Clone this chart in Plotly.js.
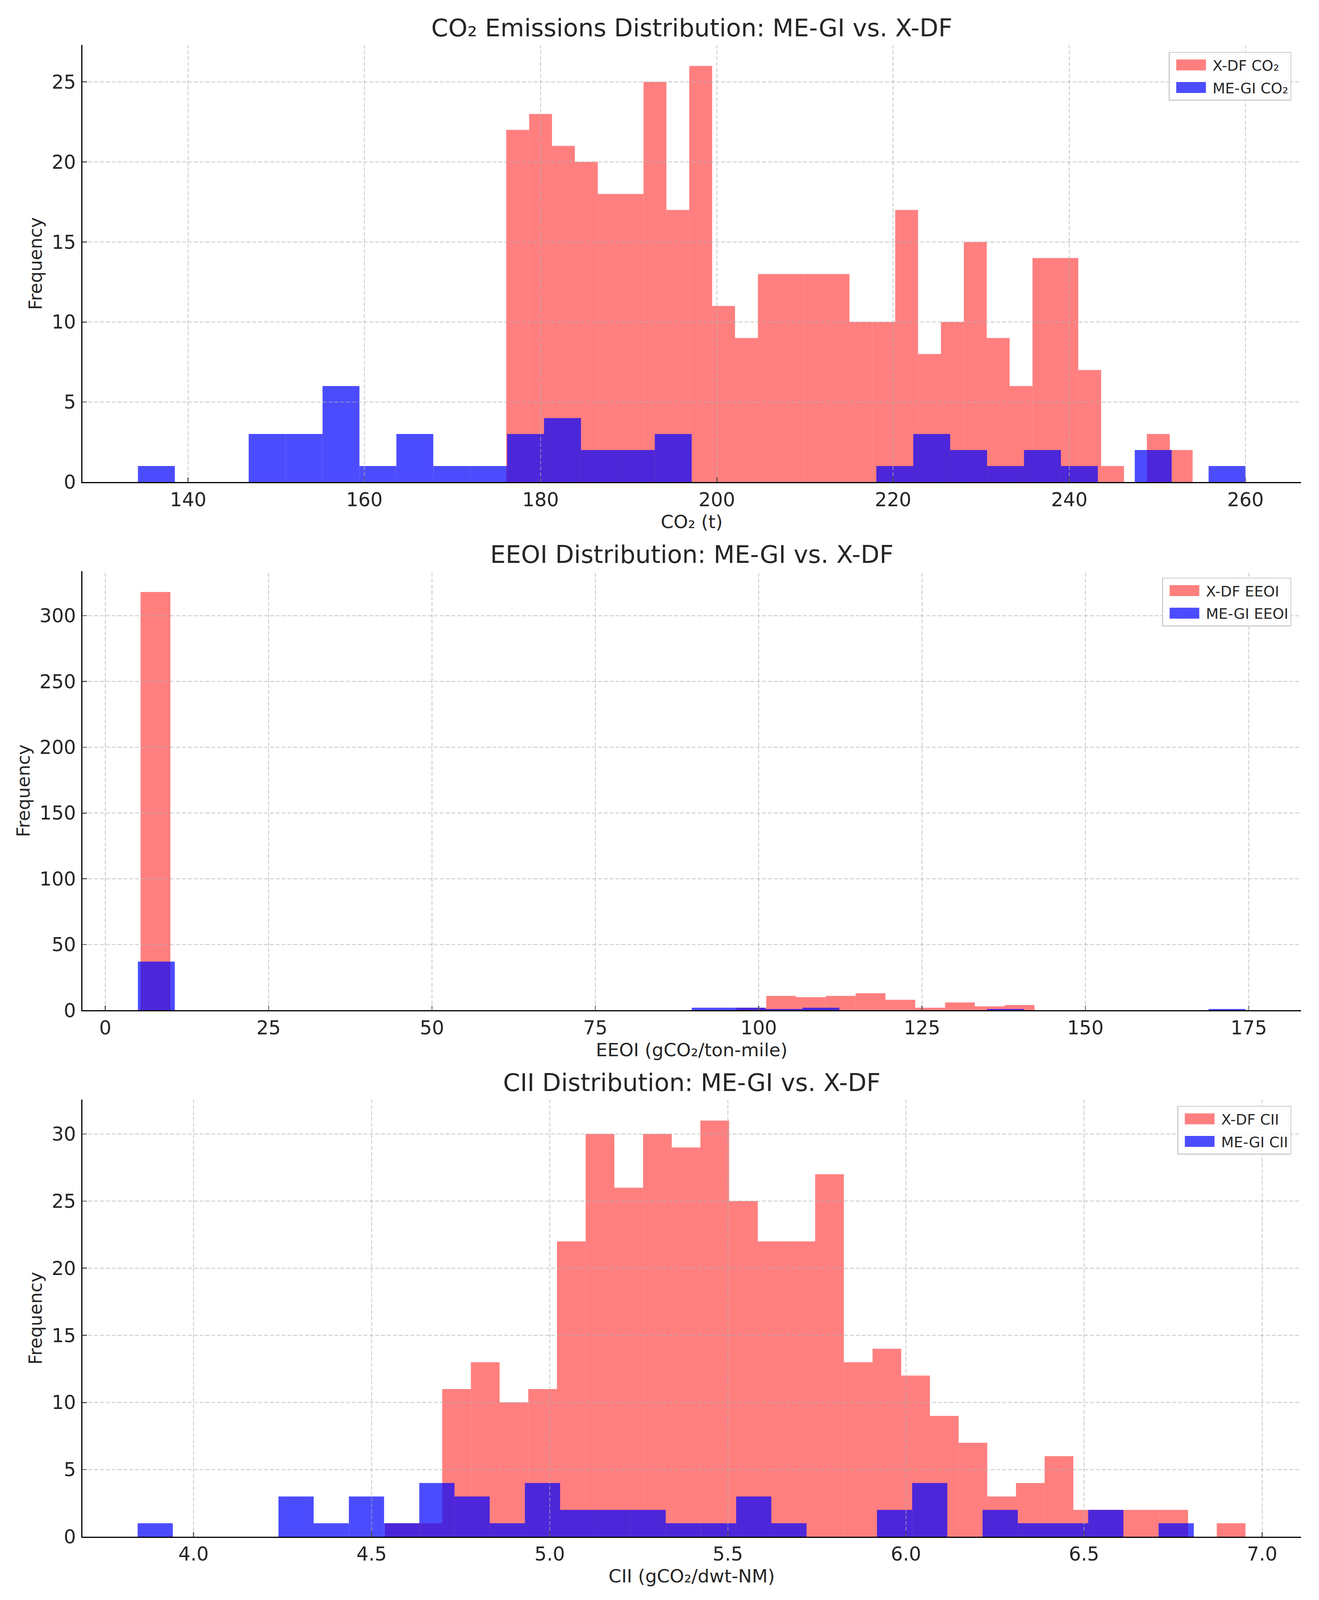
<!DOCTYPE html>
<html>
<head>
<meta charset="utf-8">
<script src="https://cdn.plot.ly/plotly-3.0.1.min.js"></script>
<style>
  html, body { margin: 0; padding: 0; background: #ffffff; overflow: hidden; }
  #chart { width: 100vw; height: 100vh; }
</style>
</head>
<body>
<div id="chart"></div>
<script>
// ---------------- DATA (histogram counts) ----------------
// CO2 (t)
const co2XdfCounts  = [22,23,21,20,18,18,25,17,26,11,9,13,13,13,13,10,10,17,8,10,15,9,6,14,14,7,1,0,3,2];
const co2XdfRange   = [176.1, 254.0];
const co2MegiCounts = [1,0,0,3,3,6,1,3,1,1,3,4,2,2,3,0,0,0,0,0,1,3,2,1,2,1,0,2,0,1];
const co2MegiRange  = [134.3, 260.0];

// EEOI (gCO2/ton-mile)
const eeoiXdfCounts  = [318,0,0,0,0,0,0,0,0,0,0,0,0,0,0,0,0,0,0,0,2,11,10,11,13,8,2,6,3,4];
const eeoiXdfRange   = [5.4, 142.2];
const eeoiMegiCounts = [37,0,0,0,0,0,0,0,0,0,0,0,0,0,0,2,2,1,2,0,0,0,0,1,0,0,0,0,0,1];
const eeoiMegiRange  = [4.99, 174.5];

// CII (gCO2/dwt-NM)
const ciiXdfCounts  = [1,1,11,13,10,11,22,30,26,30,29,31,25,22,22,27,13,14,12,9,7,3,4,6,2,2,2,2,0,1];
const ciiXdfRange   = [4.537, 6.953];
const ciiMegiCounts = [1,0,0,0,3,1,3,1,4,3,1,4,2,2,2,1,1,3,1,0,0,2,4,0,2,1,1,2,0,1];
const ciiMegiRange  = [3.843, 6.808];

const titles      = ["CO\u2082 Emissions Distribution: ME-GI vs. X-DF", "EEOI Distribution: ME-GI vs. X-DF", "CII Distribution: ME-GI vs. X-DF"];
const xTitles     = ["CO\u2082 (t)", "EEOI (gCO\u2082/ton-mile)", "CII (gCO\u2082/dwt-NM)"];
const xdfNames    = ["X-DF CO\u2082", "X-DF EEOI", "X-DF CII"];
const megiNames   = ["ME-GI CO\u2082", "ME-GI EEOI", "ME-GI CII"];

// axis tick positions
const xTicks = [[140,160,180,200,220,240,260], [0,25,50,75,100,125,150,175], [4.0,4.5,5.0,5.5,6.0,6.5,7.0]];
const yTicks = [[0,5,10,15,20,25], [0,50,100,150,200,250,300], [0,5,10,15,20,25,30]];

// ---------------- STYLE / LAYOUT ----------------
const REF_W = 3377, REF_H = 4222;
const W = window.innerWidth || REF_W;
const H = window.innerHeight || REF_H;
const FONT = "DejaVu Sans, Verdana, sans-serif";
const TXT = "#262626";
const RED = "rgba(255,0,0,0.5)";
const BLUE = "rgba(0,0,255,0.7)";
const GRID = { color: "rgba(176,176,176,0.6)", width: 2.5, dash: "10px,5px" };

// plot areas in reference pixels [left, right, top, bottom]
const areas = [
  [211, 3331, 119, 1272],
  [211, 3331, 1507, 2666],
  [211, 3331, 2902, 4055]
];
const titleY = [74, 1463, 2857];
const legendTop = [137, 1524, 2918];
const xRanges = [[128.0, 266.3], [-3.5, 183.0], [3.688, 7.109]];
const yRanges = [[0, 27.3], [0, 333.9], [0, 32.55]];
const xFormats = ["d", "d", ".1f"];

function bins(range, n) {
  const w = (range[1] - range[0]) / n;
  const c = [];
  for (let i = 0; i < n; i++) c.push(range[0] + (i + 0.5) * w);
  return { centers: c, width: w };
}

const sets = [
  [co2XdfCounts, co2XdfRange, co2MegiCounts, co2MegiRange],
  [eeoiXdfCounts, eeoiXdfRange, eeoiMegiCounts, eeoiMegiRange],
  [ciiXdfCounts, ciiXdfRange, ciiMegiCounts, ciiMegiRange]
];

const traces = [];
const layout = {
  width: W, height: H,
  margin: { l: 0, r: 0, t: 0, b: 0, pad: 0 },
  paper_bgcolor: "#ffffff",
  plot_bgcolor: "#ffffff",
  barmode: "overlay",
  font: { family: FONT, color: TXT, size: 48 },
  annotations: [],
  shapes: [],
  showlegend: true
};

sets.forEach((s, k) => {
  const sfx = k === 0 ? "" : String(k + 1);
  const xa = "x" + sfx, ya = "y" + sfx;
  const lg = "legend" + sfx;
  const bx = bins(s[1], s[0].length);
  const bm = bins(s[3], s[2].length);
  traces.push({
    type: "bar", x: bx.centers, y: s[0], width: bx.width,
    name: xdfNames[k], xaxis: xa, yaxis: ya, legend: lg, legendgroup: "xdf" + k,
    marker: { color: RED, line: { width: 0 } }, hoverinfo: "skip"
  });
  traces.push({
    type: "bar", x: bm.centers, y: s[2], width: bm.width,
    name: megiNames[k], xaxis: xa, yaxis: ya, legend: lg, legendgroup: "megi" + k,
    marker: { color: BLUE, line: { width: 0 } }, hoverinfo: "skip"
  });

  const a = areas[k];
  layout["xaxis" + sfx] = {
    domain: [a[0] / REF_W, a[1] / REF_W], anchor: ya, range: xRanges[k],
    tickmode: "array", tickvals: xTicks[k], tickformat: xFormats[k],
    showgrid: false, showline: true, linecolor: "#000", linewidth: 2.7, mirror: false, zeroline: false,
    ticks: "inside", ticklen: 11, tickwidth: 2.5, tickcolor: "#000",
    ticklabelstandoff: 0,
    tickfont: { family: FONT, size: 49, color: TXT },
    title: { text: xTitles[k], font: { family: FONT, size: 47, color: TXT }, standoff: 6 }
  };
  layout["yaxis" + sfx] = {
    domain: [1 - a[3] / REF_H, 1 - a[2] / REF_H], anchor: xa, range: yRanges[k],
    tickmode: "array", tickvals: yTicks[k],
    showgrid: false, showline: true, linecolor: "#000", linewidth: 2.7, mirror: false, zeroline: false,
    ticks: "inside", ticklen: 11, tickwidth: 2.5, tickcolor: "#000",
    ticklabelstandoff: 4,
    tickfont: { family: FONT, size: 49, color: TXT },
    title: { text: "Frequency", font: { family: FONT, size: 46, color: TXT }, standoff: 10 }
  };
  // grid lines drawn above the bars (as in the reference)
  xTicks[k].forEach(v => layout.shapes.push({
    type: "line", layer: "above", xref: xa, yref: ya + " domain",
    x0: v, x1: v, y0: 0, y1: 1, line: GRID
  }));
  yTicks[k].filter(v => v > 0).forEach(v => layout.shapes.push({
    type: "line", layer: "above", xref: xa + " domain", yref: ya,
    x0: 0, x1: 1, y0: v, y1: v, line: GRID
  }));
  layout[lg] = {
    x: 3306 / REF_W, xanchor: "right", xref: "paper",
    y: 1 - legendTop[k] / REF_H, yanchor: "top", yref: "paper",
    bgcolor: "rgba(255,255,255,0.8)", bordercolor: "#cccccc", borderwidth: 2.5,
    font: { family: FONT, size: 37.5, color: TXT },
    itemwidth: 100, traceorder: "grouped", tracegroupgap: 6
  };
  layout.annotations.push({
    text: titles[k], xref: "paper", yref: "paper",
    x: (a[0] + a[1]) / 2 / REF_W, y: 1 - titleY[k] / REF_H,
    xanchor: "center", yanchor: "middle", showarrow: false,
    font: { family: FONT, size: 62.5, color: TXT }
  });
});

function widenLegendSwatches() {
  document.querySelectorAll("g.legendpoints path").forEach(p => {
    p.setAttribute("d", "M38,14H-38V-14H38Z");
  });
}

Plotly.newPlot("chart", traces, layout, { staticPlot: true, displayModeBar: false }).then(() => {
  widenLegendSwatches();
  setTimeout(widenLegendSwatches, 50);
  setTimeout(widenLegendSwatches, 300);
});
</script>
</body>
</html>
